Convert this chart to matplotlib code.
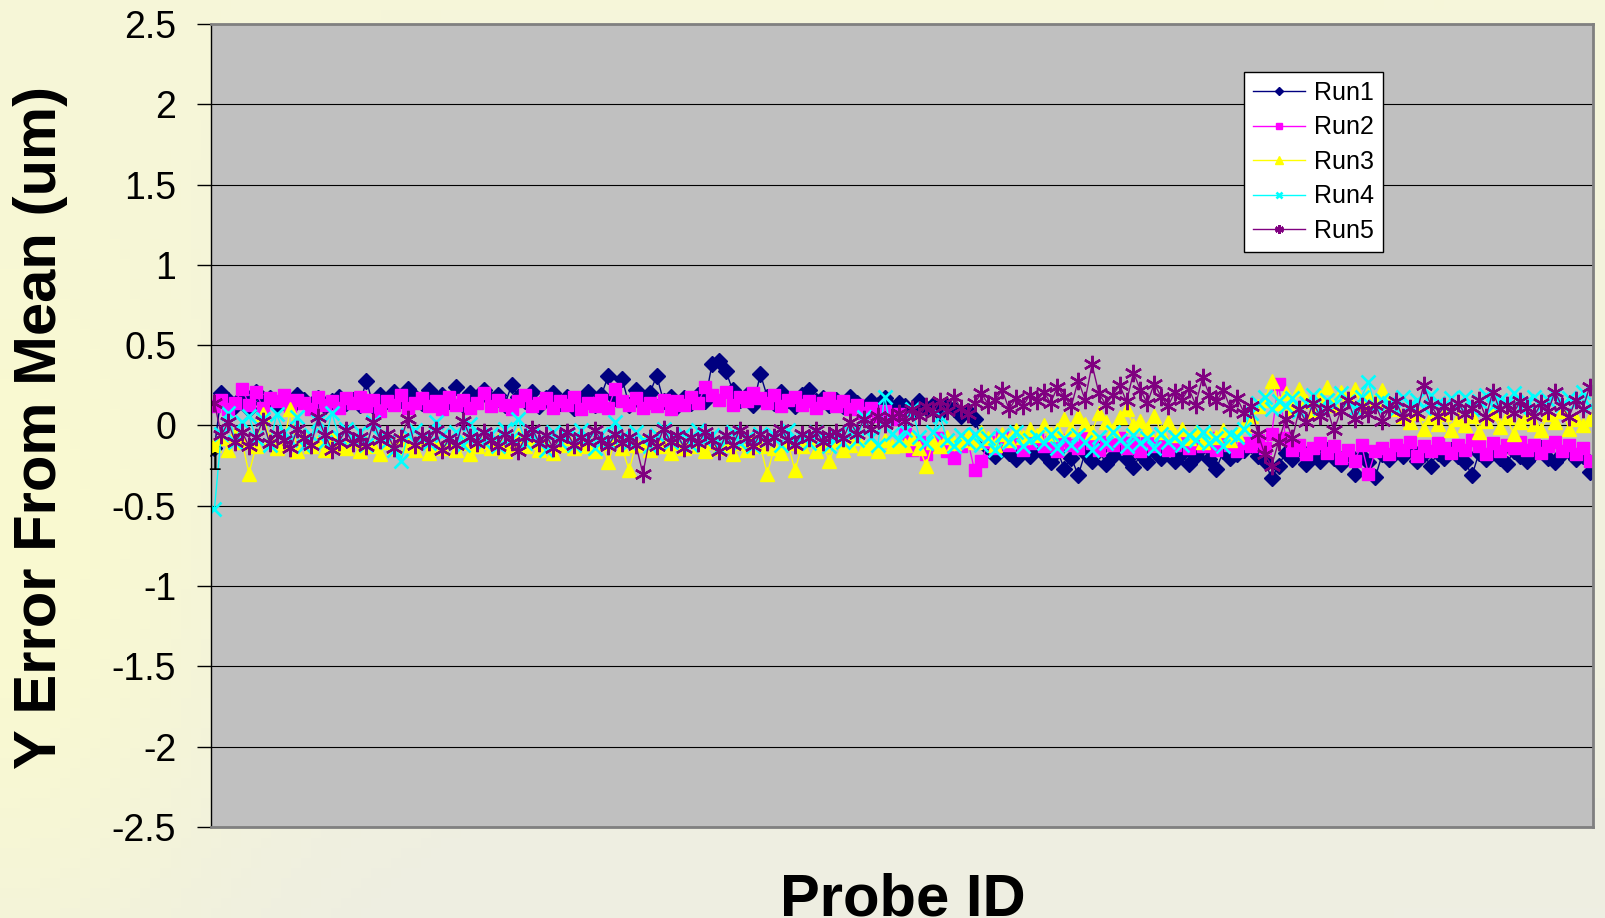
import numpy as np
import matplotlib.pyplot as plt
from matplotlib.colors import to_rgb

# values, one list per run, probe order left to right
run1 = [-0.14, 0.20, 0.16, 0.12, 0.18, 0.10, 0.21, 0.14, 0.17, 0.13,
        0.15, 0.11, 0.19, 0.16, 0.13, 0.17, 0.12, 0.15, 0.18, 0.14,
        0.16, 0.13, 0.28, 0.12, 0.19, 0.15, 0.21, 0.16, 0.23, 0.18,
        0.14, 0.22, 0.17, 0.19, 0.15, 0.24, 0.13, 0.20, 0.17, 0.22,
        0.16, 0.19, 0.13, 0.25, 0.18, 0.15, 0.21, 0.12, 0.17, 0.20,
        0.14, 0.18, 0.11, 0.16, 0.21, 0.13, 0.19, 0.31, 0.17, 0.29,
        0.13, 0.22, 0.16, 0.20, 0.31, 0.15, 0.18, 0.12, 0.17, 0.14,
        0.19, 0.15, 0.38, 0.40, 0.34, 0.22, 0.16, 0.19, 0.13, 0.32,
        0.18, 0.14, 0.21, 0.16, 0.12, 0.19, 0.22, 0.15, 0.17, 0.13,
        0.16, 0.12, 0.18, 0.14, 0.10, 0.15, 0.13, 0.17, 0.11, 0.14,
        0.12, 0.09, 0.15, 0.11, 0.13, 0.08, 0.12, 0.10, 0.06, 0.09,
        0.04, -0.08, -0.14, -0.19, -0.12, -0.17, -0.21, -0.15, -0.19, -0.13,
        -0.18, -0.23, -0.16, -0.27, -0.20, -0.31, -0.17, -0.22, -0.15, -0.24,
        -0.19, -0.13, -0.21, -0.26, -0.18, -0.23, -0.16, -0.20, -0.14, -0.22,
        -0.17, -0.24, -0.19, -0.13, -0.21, -0.27, -0.16, -0.20, -0.18, -0.15,
        -0.12, -0.19, -0.22, -0.33, -0.25, -0.17, -0.21, -0.14, -0.24, -0.18,
        -0.22, -0.15, -0.20, -0.24, -0.17, -0.30, -0.19, -0.23, -0.32, -0.18,
        -0.21, -0.16, -0.19, -0.14, -0.22, -0.18, -0.25, -0.17, -0.20, -0.15,
        -0.19, -0.23, -0.31, -0.17, -0.21, -0.15, -0.20, -0.24, -0.16, -0.19,
        -0.22, -0.17, -0.14, -0.20, -0.23, -0.18, -0.16, -0.21, -0.19, -0.29]

run2 = [0.12, 0.16, 0.10, 0.14, 0.23, 0.13, 0.21, 0.11, 0.17, 0.15,
        0.19, 0.12, 0.16, 0.14, 0.10, 0.18, 0.13, 0.15, 0.11, 0.17,
        0.14, 0.18, 0.12, 0.16, 0.09, 0.15, 0.13, 0.19, 0.11, 0.14,
        0.17, 0.12, 0.15, 0.10, 0.18, 0.13, 0.16, 0.11, 0.14, 0.20,
        0.12, 0.16, 0.13, 0.10, 0.15, 0.19, 0.12, 0.14, 0.17, 0.11,
        0.15, 0.13, 0.18, 0.10, 0.14, 0.12, 0.16, 0.11, 0.23, 0.15,
        0.13, 0.17, 0.11, 0.14, 0.12, 0.16, 0.10, 0.15, 0.13, 0.18,
        0.14, 0.24, 0.19, 0.16, 0.21, 0.13, 0.18, 0.15, 0.20, 0.17,
        0.14, 0.19, 0.12, 0.16, 0.18, 0.13, 0.15, 0.11, 0.14, 0.17,
        0.12, 0.15, 0.10, 0.13, 0.08, 0.11, 0.06, 0.09, 0.04, 0.07,
        -0.05, -0.15, -0.10, -0.18, -0.12, -0.08, -0.16, -0.20, -0.13, -0.09,
        -0.28, -0.22, -0.10, -0.14, -0.07, -0.12, -0.09, -0.15, -0.11, -0.08,
        -0.13, -0.10, -0.16, -0.09, -0.12, -0.14, -0.07, -0.11, -0.15, -0.10,
        -0.12, -0.08, -0.14, -0.11, -0.16, -0.09, -0.13, -0.10, -0.15, -0.12,
        -0.09, -0.14, -0.11, -0.13, -0.08, -0.15, -0.10, -0.12, -0.16, -0.11,
        -0.13, -0.09, -0.14, -0.05, 0.26, -0.08, -0.15, -0.12, -0.18, -0.14,
        -0.11, -0.17, -0.13, -0.20, -0.15, -0.22, -0.12, -0.30, -0.16, -0.14,
        -0.18, -0.12, -0.15, -0.10, -0.19, -0.13, -0.16, -0.11, -0.14, -0.17,
        -0.12, -0.15, -0.09, -0.13, -0.18, -0.11, -0.16, -0.12, -0.14, -0.10,
        -0.15, -0.12, -0.17, -0.13, -0.10, -0.16, -0.12, -0.18, -0.14, -0.22]

run3 = [-0.12, -0.08, -0.15, -0.05, -0.10, -0.30, -0.13, 0.07, -0.09, -0.14,
        -0.11, 0.10, -0.16, -0.08, -0.13, -0.10, -0.15, -0.07, -0.12, -0.14,
        -0.09, -0.16, -0.11, -0.13, -0.18, -0.10, -0.14, -0.08, -0.12, -0.15,
        -0.10, -0.17, -0.12, -0.14, -0.09, -0.15, -0.11, -0.18, -0.13, -0.10,
        -0.14, -0.09, -0.16, -0.12, -0.06, -0.13, -0.10, -0.15, -0.11, -0.17,
        -0.12, -0.08, -0.14, -0.10, -0.13, -0.16, -0.11, -0.23, -0.09, -0.14,
        -0.28, -0.12, -0.10, -0.15, -0.08, -0.13, -0.17, -0.11, -0.14, -0.09,
        -0.13, -0.16, -0.10, -0.14, -0.12, -0.18, -0.11, -0.15, -0.09, -0.13,
        -0.30, -0.14, -0.17, -0.11, -0.28, -0.13, -0.09, -0.16, -0.12, -0.22,
        -0.10, -0.15, -0.12, -0.08, -0.14, -0.11, -0.16, -0.09, -0.13, -0.10,
        -0.12, -0.08, -0.14, -0.25, -0.10, -0.13, -0.07, -0.11, -0.09, -0.06,
        -0.10, -0.04, -0.08, -0.12, -0.05, -0.09, -0.03, -0.07, -0.02, -0.06,
        0.00, -0.05, -0.03, 0.04, -0.02, 0.06, 0.01, -0.04, 0.08, 0.02,
        -0.03, 0.05, 0.10, 0.00, 0.03, -0.02, 0.06, -0.04, 0.02, -0.06,
        -0.02, -0.08, -0.04, -0.10, -0.05, -0.07, -0.03, -0.09, -0.05, 0.00,
        0.06, 0.12, 0.16, 0.28, 0.14, 0.20, 0.11, 0.23, 0.15, 0.09,
        0.18, 0.24, 0.13, 0.21, 0.17, 0.23, 0.12, 0.19, 0.15, 0.22,
        0.14, 0.10, 0.06, 0.02, 0.08, -0.02, 0.05, 0.01, 0.07, -0.03,
        0.04, 0.00, 0.06, -0.04, 0.03, 0.08, -0.01, 0.05, -0.05, 0.02,
        0.06, 0.01, -0.03, 0.07, 0.02, 0.09, -0.02, 0.04, 0.00, 0.04]

run4 = [-0.52, -0.05, 0.08, -0.10, 0.02, 0.06, -0.08, 0.04, -0.12, 0.07,
        -0.04, -0.09, 0.05, -0.13, -0.06, 0.03, -0.10, 0.08, -0.07, -0.02,
        -0.09, -0.04, -0.12, 0.02, -0.07, -0.10, -0.15, -0.22, -0.06, -0.03,
        -0.08, -0.11, 0.02, -0.06, -0.09, -0.04, -0.12, 0.01, -0.07, -0.10,
        -0.05, -0.13, -0.02, -0.08, 0.04, -0.11, -0.06, -0.09, -0.15, -0.04,
        -0.10, -0.07, -0.12, -0.03, -0.08, -0.14, -0.05, -0.10, 0.02, -0.07,
        -0.11, -0.04, -0.09, -0.13, -0.06, -0.02, -0.10, -0.08, -0.05, -0.12,
        -0.03, -0.09, -0.06, -0.14, -0.07, -0.04, -0.11, -0.08, -0.13, -0.05,
        -0.09, -0.06, -0.12, -0.03, -0.10, -0.07, -0.11, -0.04, -0.08, -0.13,
        -0.06, -0.10, -0.04, -0.09, 0.05, -0.07, -0.12, 0.18, -0.05, -0.09,
        -0.03, 0.10, -0.07, -0.11, -0.04, 0.06, -0.09, -0.13, -0.06, -0.10,
        -0.05, -0.12, -0.08, -0.15, -0.06, -0.10, -0.04, -0.13, -0.09, -0.07,
        -0.11, -0.05, -0.14, -0.08, -0.12, -0.06, -0.10, -0.15, -0.07, -0.11,
        -0.04, -0.09, -0.13, -0.06, -0.11, -0.08, -0.14, -0.05, -0.10, -0.07,
        -0.12, -0.06, -0.09, -0.04, -0.11, -0.08, -0.13, -0.05, -0.07, -0.02,
        0.08, 0.14, 0.18, 0.10, 0.15, 0.12, 0.17, 0.09, 0.14, 0.19,
        0.11, 0.16, 0.13, 0.20, 0.15, 0.10, 0.18, 0.27, 0.12, 0.16,
        0.14, 0.10, 0.18, 0.13, 0.16, 0.11, 0.19, 0.14, 0.12, 0.17,
        0.13, 0.18, 0.10, 0.15, 0.19, 0.12, 0.16, 0.14, 0.20, 0.11,
        0.15, 0.18, 0.12, 0.16, 0.19, 0.13, 0.17, 0.14, 0.21, 0.12]

run5 = [0.14, -0.06, 0.02, -0.10, -0.04, -0.13, -0.07, 0.03, -0.11, -0.05,
        -0.09, -0.14, -0.02, -0.08, -0.12, 0.05, -0.06, -0.15, -0.10, -0.03,
        -0.11, -0.07, -0.13, 0.02, -0.09, -0.05, -0.14, -0.08, 0.04, -0.12,
        -0.06, -0.10, -0.03, -0.15, -0.08, -0.12, 0.03, -0.07, -0.11, -0.04,
        -0.09, -0.13, -0.05, -0.10, -0.16, -0.07, -0.02, -0.11, -0.06, -0.14,
        -0.08, -0.04, -0.12, -0.07, -0.10, -0.03, -0.09, -0.13, -0.05, -0.11,
        -0.07, -0.12, -0.30, -0.08, -0.13, -0.02, -0.10, -0.06, -0.14, -0.07,
        -0.11, -0.04, -0.09, -0.16, -0.06, -0.12, -0.03, -0.08, -0.13, -0.05,
        -0.10, -0.07, -0.02, -0.09, -0.12, -0.05, -0.08, -0.03, -0.10, -0.06,
        -0.04, -0.08, 0.02, -0.05, 0.04, -0.02, 0.06, 0.01, 0.05, 0.08,
        0.03, 0.10, 0.06, 0.12, 0.08, 0.15, 0.09, 0.18, 0.11, 0.07,
        0.14, 0.20, 0.13, 0.16, 0.22, 0.10, 0.17, 0.12, 0.19, 0.15,
        0.21, 0.14, 0.24, 0.18, 0.12, 0.28, 0.16, 0.38, 0.20, 0.13,
        0.19, 0.25, 0.15, 0.33, 0.22, 0.14, 0.26, 0.18, 0.12, 0.21,
        0.16, 0.23, 0.13, 0.30, 0.19, 0.15, 0.22, 0.11, 0.17, 0.08,
        0.12, -0.05, -0.18, -0.25, -0.10, 0.04, -0.08, 0.10, 0.02, 0.14,
        0.06, 0.11, -0.03, 0.09, 0.16, 0.04, 0.12, 0.07, 0.13, 0.03,
        0.10, 0.15, 0.05, 0.11, 0.08, 0.25, 0.13, 0.06, 0.12, 0.09,
        0.14, 0.07, 0.11, 0.16, 0.05, 0.21, 0.10, 0.13, 0.08, 0.15,
        0.11, 0.06, 0.14, 0.09, 0.21, 0.12, 0.05, 0.16, 0.10, 0.24]

probe = np.arange(1, len(run1) + 1)
yticks = [2.5, 2, 1.5, 1, 0.5, 0, -0.5, -1, -1.5, -2, -2.5]

fig = plt.figure(figsize=(16.05, 9.18), dpi=100)

# pale yellow background, stronger on the left, greyer to the bottom
bg = fig.add_axes([0, 0, 1, 1], zorder=-10)
h, w = 92, 160
yy = np.linspace(0, 1, h)[:, None]
xx = np.linspace(0, 1, w)[None, :]
top = np.array(to_rgb('#f6f6da'))
bot = np.array(to_rgb('#eeeee2'))
yel = np.array(to_rgb('#fafad0'))
img = top * (1 - yy[..., None]) + bot * yy[..., None]
left = np.exp(-(xx / 0.15) ** 2) * np.exp(-((yy - 0.6) / 0.5) ** 2)
img = img * (1 - left[..., None]) + yel * left[..., None]
bg.imshow(img, aspect='auto', extent=[0, 1, 0, 1])
bg.axis('off')

ax = fig.add_axes([211 / 1605, 1 - 827 / 918, (1593 - 211) / 1605, (827 - 24) / 918])
ax.set_facecolor('#c0c0c0')

styles = [
    ('Run1', run1, '#000080', dict(marker='D', ms=8.5)),
    ('Run2', run2, '#ff00ff', dict(marker='s', ms=8.5)),
    ('Run3', run3, '#ffff00', dict(marker='^', ms=10.5)),
    ('Run4', run4, '#00ffff', dict(marker='x', ms=10, mew=1.9)),
    ('Run5', run5, '#800080', dict(marker=(6, 2, 0), ms=12.5, mew=1.7)),
]
for name, vals, col, mk in styles:
    ax.plot(probe, vals, color=col, lw=1, mfc=col, mec=col, label=name, **mk)

ax.set_ylim(-2.5, 2.5)
ax.set_xlim(0.5, len(run1) + 0.5)
ax.set_yticks(yticks)
ax.set_yticklabels([f'{t:g}' for t in yticks], fontsize=27, family='Liberation Sans')
ax.yaxis.grid(True, color='black', lw=0.8)
ax.set_axisbelow(True)
ax.tick_params(axis='y', length=10, width=1, pad=15, direction='out')
ax.set_xticks([])
for s in ['top', 'right', 'bottom']:
    ax.spines[s].set_color('#808080')
    ax.spines[s].set_linewidth(2)
ax.spines['left'].set_color('black')
ax.spines['left'].set_linewidth(1)

ax.annotate('1', xy=(1, 0), xytext=(0, -27), textcoords='offset points',
            ha='center', va='center', fontsize=18, family='Liberation Sans')

fig.text(41 / 1605, 1 - 427 / 918, 'Y Error From Mean (um)', rotation=90,
         ha='center', va='center', fontsize=43, fontweight='bold', family='Liberation Sans')
fig.text(903 / 1605, 3 / 918, 'Probe ID', ha='center', va='baseline',
         fontsize=43, fontweight='bold', family='Liberation Sans')

leg = ax.legend(loc='upper left', bbox_to_anchor=(1244 / 1605, 1 - 72 / 918),
                bbox_transform=fig.transFigure, prop={'family': 'Liberation Sans', 'size': 18},
                frameon=True, fancybox=False, edgecolor='black', facecolor='white',
                framealpha=1, handlelength=2.1, labelspacing=0.42, borderpad=0.35,
                borderaxespad=0, handletextpad=0.35, markerscale=0.5)
leg.get_frame().set_linewidth(1)

fig.savefig('out.png', dpi=100)
